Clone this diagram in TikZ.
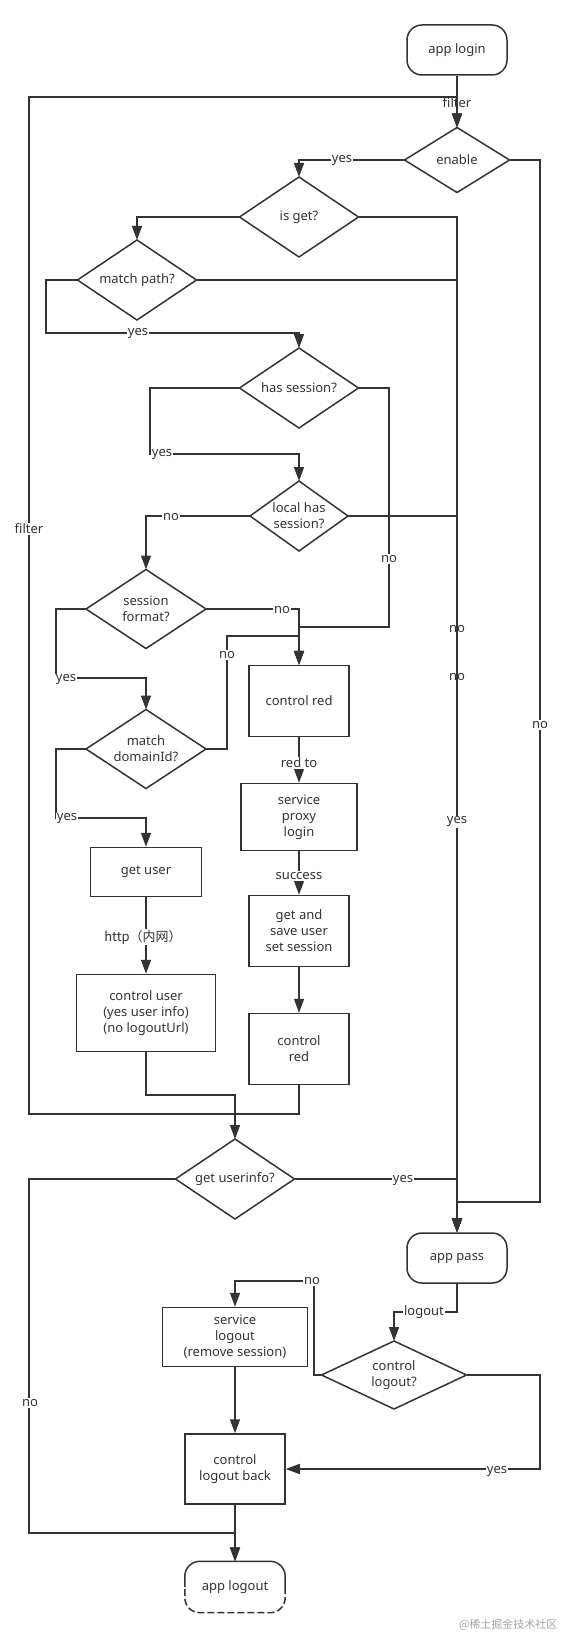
\documentclass[tikz,border=0pt]{standalone}
\usepackage{fontspec}
\setmainfont{Noto Sans}
\newfontfamily\cjk{Noto Sans CJK SC}
\usetikzlibrary{arrows.meta,calc}
\definecolor{ln}{HTML}{333333}
\begin{document}
\begin{tikzpicture}[x=1pt,y=-1pt,
  every node/.style={font=\fontsize{13}{16}\selectfont, text=ln},
  box/.style 2 args={draw=ln, line width=1.5pt, rectangle, minimum width=#1, minimum height=#2, inner sep=0pt, align=center},
  term/.style 2 args={box={#1}{#2}, rounded corners=15pt},
  dnode/.style 2 args={rectangle, minimum width=#1, minimum height=#2, inner sep=0pt, outer sep=0pt, align=center},
  con/.style={draw=ln, line width=1.5pt},
  arr/.style={con, -{Triangle[length=14pt,width=10pt]}},
  lab/.style={fill=white, inner sep=1pt},
  labnf/.style={inner sep=1pt}]
\useasboundingbox (0,0) rectangle (564,1637);

% nodes
\node[term={100}{50}] (login) at (457,50) {app login};
\node[dnode={105}{65}] (enable) at (457,160) {enable};
\node[dnode={119}{80}] (isget) at (299,217) {is get?};
\node[dnode={119}{80}] (matchpath) at (137,280) {match path?};
\node[dnode={119}{80}] (hassession) at (299,388) {has session?};
\node[dnode={98}{70}] (localhas) at (299,516) {local has\\session?};
\node[dnode={120}{79}] (sessfmt) at (146,609) {session\\format?};
\node[dnode={120}{79}] (matchdom) at (146,749) {match\\domainId?};
\node[box={100}{71}] (ctrlred) at (299,701) {control red};
\node[box={116}{67}] (proxy) at (299,817) {service\\proxy\\login};
\node[box={100}{71}] (getsave) at (299,931) {get and\\save user\\set session};
\node[box={100}{71}] (ctrlred2) at (299,1049) {control\\red};
\node[box={111}{49}] (getuser) at (146,872) {get user};
\node[box={139}{77}] (ctrluser) at (146,1013) {control user\\(yes user info)\\(no logoutUrl)};
\node[dnode={119}{80}] (getinfo) at (235,1179) {get userinfo?};
\node[term={100}{50}] (apppass) at (457,1258) {app pass};
\node[dnode={145}{68}] (ctrllogout) at (394,1375) {control\\logout?};
\node[box={145}{59}] (svclogout) at (235,1337) {service\\logout\\(remove session)};
\node[box={100}{70}] (logoutback) at (235,1469) {control\\logout back};
\node[rectangle, minimum width=100, minimum height=51, inner sep=0pt] (applogout) at (235,1587) {app logout};

% diamond outlines
\foreach \n in {enable,isget,matchpath,hassession,localhas,sessfmt,matchdom,getinfo,ctrllogout}
  \draw[con, line join=miter] (\n.north) -- (\n.east) -- (\n.south) -- (\n.west) -- cycle;

% app logout outline (dashed bottom)
\draw[con, rounded corners=15pt] (applogout.west) -- (applogout.north west) -- (applogout.north east) -- (applogout.east);
\draw[con, dash pattern=on 7pt off 3pt, rounded corners=15pt] (applogout.east) -- (applogout.south east) -- (applogout.south west) -- (applogout.west);

% connectors
\draw[arr] (login) -- (enable);
\draw[arr] (enable.west) -| (isget.north);
\draw[arr] (enable.east) -| (540,1202) -| (apppass.north);
\draw[arr] (isget.east) -| (apppass.north);
\draw[arr] (isget.west) -| (matchpath.north);
\draw[arr] (matchpath.east) -| (apppass.north);
\draw[arr] (matchpath.west) -| (46,333) -| (hassession.north);
\draw[arr] (hassession.west) -| (150,454) -| (localhas.north);
\draw[arr] (hassession.east) -| (389,627) -| (ctrlred.north);
\draw[arr] (localhas.west) -| (sessfmt.north);
\draw[arr] (localhas.east) -| (apppass.north);
\draw[arr] (sessfmt.east) -| (ctrlred.north);
\draw[arr] (sessfmt.west) -| (56,678) -| (matchdom.north);
\draw[arr] (matchdom.east) -| (227,636) -| (ctrlred.north);
\draw[arr] (matchdom.west) -| (56,818) -| (getuser.north);
\draw[arr] (getuser) -- (ctrluser);
\draw[arr] (ctrlred) -- (proxy);
\draw[arr] (proxy) -- (getsave);
\draw[arr] (getsave) -- (ctrlred2);
\draw[arr] (ctrlred2.south) |- (29,1114) |- (457,97) -- (enable.north);
\draw[arr] (ctrluser.south) |- (235,1095) -- (getinfo.north);
\draw[arr] (getinfo.east) -| (apppass.north);
\draw[arr] (getinfo.west) -| (29,1533) -| (applogout.north);
\draw[arr] (apppass.south) |- (394,1312) -- (ctrllogout.north);
\draw[arr] (ctrllogout.west) -| (314,1281) -| (svclogout.north);
\draw[arr] (ctrllogout.east) -| (540,1469) -- (logoutback.east);
\draw[arr] (svclogout) -- (logoutback);
\draw[arr] (logoutback) -- (applogout);

% labels
\node[labnf] (l1) at (457,103) {filter};
\node[lab] (l2) at (342,161) {yes};
\node[lab] (l3) at (138,334) {yes};
\node[lab] (l4) at (162,455) {yes};
\node[lab] (l5) at (389,559) {no};
\node[lab] (l6) at (171,517) {no};
\node[lab] (l7) at (282,610) {no};
\node[lab] (l8) at (227,655) {no};
\node[lab] (l9) at (66,680) {yes};
\node[lab] (l10) at (67,819) {yes};
\node[labnf] (l11) at (457,629) {no};
\node[labnf] (l12) at (457,677) {no};
\node[lab] (l13) at (457,822) {yes};
\node[lab] (l14) at (540,725) {no};
\node[lab] (l15) at (29,529) {filter};
\node[lab] (l16) at (299,763) {red to};
\node[lab] (l17) at (299,876) {success};
\node[lab, font=\cjk\fontsize{13}{16}\selectfont] (l18) at (143,937) {http（内网）};
\node[lab] (l19) at (403,1180) {yes};
\node[lab] (l20) at (424,1312) {logout};
\node[lab] (l21) at (312,1281) {no};
\node[lab] (l22) at (497,1471) {yes};
\node[lab] (l23) at (30,1403) {no};
\node[font=\cjk\fontsize{11}{11}\selectfont, text=black!35, anchor=east] (wm) at (561,1625) {@稀土掘金技术社区};
\end{tikzpicture}
\end{document}
